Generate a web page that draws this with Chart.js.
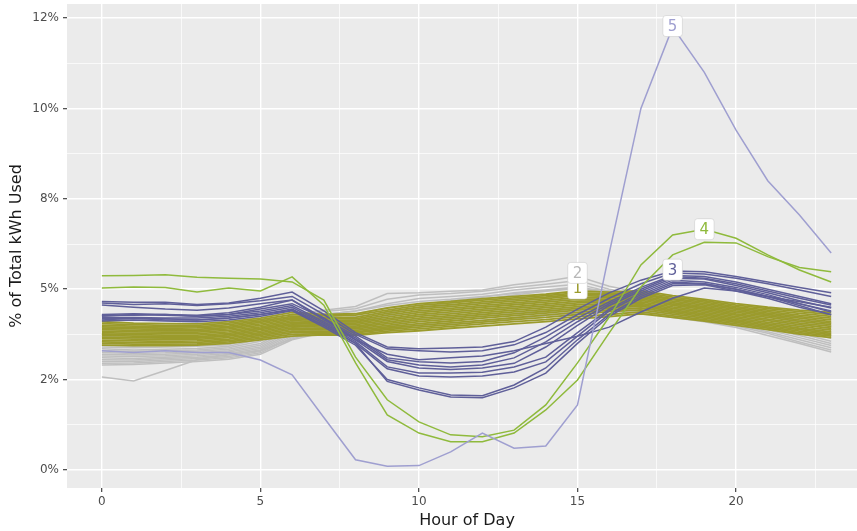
<!DOCTYPE html>
<html>
<head>
<meta charset="utf-8">
<script src="https://cdn.jsdelivr.net/npm/chart.js@4.4.1/dist/chart.umd.min.js"></script>
<style>
  html, body { margin: 0; padding: 0; background: #fff; overflow: hidden; }
  #wrap { width: 870px; height: 531px; }
</style>
</head>
<body>
<div id="wrap"><canvas id="myChart" width="870" height="531"></canvas></div>
<script>
// hours on the x axis
const hours = [0, 1, 2, 3, 4, 5, 6, 7, 8, 9, 10, 11, 12, 13, 14, 15, 16, 17, 18, 19, 20, 21, 22, 23];

// tick values and their labels (ggplot rounds 2.5% to "2%" etc.)
const yTickValues = [0, 2.5, 5, 7.5, 10, 12.5];
const yTickLabels = ['0%', '2%', '5%', '8%', '10%', '12%'];
const yMinorValues = [1.25, 3.75, 6.25, 8.75, 11.25];
const xTickValues = [0, 5, 10, 15, 20];
const xMinorValues = [2.5, 7.5, 12.5, 17.5, 22.5];

// cluster 2 (gray) - % of daily kWh per hour
const cluster2 = [
  [3.45, 3.42, 3.45, 3.48, 3.52, 3.80, 4.30, 4.42, 4.52, 4.88, 4.90, 4.94, 4.98, 5.12, 5.22, 5.36, 5.08, 4.90, 4.72, 4.60, 4.48, 4.38, 4.22, 4.05],
  [3.40, 3.38, 3.40, 3.42, 3.46, 3.72, 4.22, 4.38, 4.46, 4.72, 4.84, 4.88, 4.94, 5.05, 5.14, 5.24, 5.00, 4.84, 4.68, 4.56, 4.44, 4.30, 4.15, 3.96],
  [3.35, 3.32, 3.34, 3.36, 3.42, 3.62, 4.12, 4.30, 4.40, 4.60, 4.74, 4.80, 4.86, 4.98, 5.06, 5.14, 4.94, 4.78, 4.62, 4.50, 4.38, 4.24, 4.08, 3.88],
  [3.30, 3.28, 3.30, 3.32, 3.38, 3.56, 4.05, 4.22, 4.32, 4.48, 4.58, 4.68, 4.78, 4.90, 4.98, 5.06, 4.88, 4.72, 4.56, 4.44, 4.30, 4.16, 4.00, 3.80],
  [3.25, 3.22, 3.24, 3.28, 3.34, 3.50, 3.98, 4.16, 4.24, 4.36, 4.46, 4.55, 4.62, 4.70, 4.78, 4.85, 4.80, 4.66, 4.50, 4.38, 4.24, 4.08, 3.92, 3.72],
  [3.20, 3.18, 3.20, 3.24, 3.30, 3.45, 3.92, 4.10, 4.16, 4.26, 4.36, 4.44, 4.52, 4.60, 4.68, 4.75, 4.72, 4.60, 4.46, 4.34, 4.20, 4.02, 3.85, 3.64],
  [3.15, 3.14, 3.16, 3.20, 3.26, 3.40, 3.86, 4.04, 4.10, 4.18, 4.26, 4.34, 4.42, 4.50, 4.58, 4.66, 4.64, 4.54, 4.42, 4.30, 4.15, 3.96, 3.78, 3.56],
  [3.10, 3.08, 3.12, 3.16, 3.22, 3.36, 3.80, 3.98, 4.04, 4.10, 4.18, 4.25, 4.34, 4.42, 4.50, 4.58, 4.58, 4.50, 4.38, 4.26, 4.10, 3.92, 3.72, 3.50],
  [3.05, 3.04, 3.08, 3.12, 3.18, 3.32, 3.75, 3.92, 3.98, 4.04, 4.10, 4.18, 4.26, 4.34, 4.42, 4.50, 4.52, 4.46, 4.34, 4.22, 4.06, 3.88, 3.66, 3.44],
  [3.00, 3.00, 3.04, 3.08, 3.14, 3.28, 3.70, 3.88, 3.92, 3.98, 4.04, 4.12, 4.20, 4.28, 4.36, 4.44, 4.48, 4.42, 4.30, 4.18, 4.02, 3.82, 3.60, 3.38],
  [2.95, 2.96, 3.00, 3.04, 3.10, 3.24, 3.66, 3.84, 3.88, 3.94, 4.00, 4.06, 4.14, 4.22, 4.30, 4.38, 4.44, 4.38, 4.26, 4.14, 3.98, 3.78, 3.54, 3.32],
  [2.57, 2.46, 2.75, 3.05, 3.20, 3.30, 3.62, 3.90, 4.05, 4.30, 4.50, 4.62, 4.72, 4.84, 4.94, 5.02, 4.90, 4.78, 4.62, 4.48, 4.32, 4.15, 3.95, 3.75],
  [2.90, 2.92, 2.96, 3.00, 3.06, 3.20, 3.60, 3.80, 3.84, 3.90, 3.96, 4.02, 4.10, 4.18, 4.26, 4.34, 4.40, 4.35, 4.22, 4.10, 3.94, 3.72, 3.50, 3.26],
  [3.70, 3.66, 3.64, 3.66, 3.72, 3.90, 4.20, 4.30, 4.40, 4.55, 4.66, 4.72, 4.80, 4.88, 4.96, 5.04, 4.96, 4.82, 4.66, 4.54, 4.42, 4.28, 4.12, 3.98]
];

// cluster 1 (olive)
const cluster1 = [
  [4.10, 4.06, 4.05, 4.04, 4.10, 4.20, 4.36, 4.30, 4.32, 4.48, 4.60, 4.66, 4.74, 4.80, 4.86, 4.95, 4.92, 4.96, 4.82, 4.72, 4.60, 4.50, 4.42, 4.36],
  [4.05, 4.02, 4.00, 4.00, 4.06, 4.16, 4.30, 4.26, 4.28, 4.42, 4.55, 4.62, 4.70, 4.76, 4.82, 4.90, 4.88, 4.92, 4.78, 4.68, 4.56, 4.46, 4.38, 4.30],
  [4.00, 3.98, 3.96, 3.96, 4.02, 4.12, 4.25, 4.22, 4.22, 4.38, 4.50, 4.57, 4.65, 4.72, 4.78, 4.86, 4.84, 4.88, 4.74, 4.64, 4.52, 4.42, 4.33, 4.25],
  [3.96, 3.94, 3.92, 3.93, 3.98, 4.08, 4.21, 4.18, 4.18, 4.33, 4.45, 4.52, 4.60, 4.67, 4.74, 4.82, 4.80, 4.85, 4.71, 4.60, 4.48, 4.38, 4.28, 4.20],
  [3.92, 3.90, 3.88, 3.89, 3.94, 4.04, 4.17, 4.14, 4.14, 4.28, 4.40, 4.47, 4.55, 4.62, 4.69, 4.77, 4.76, 4.81, 4.67, 4.56, 4.44, 4.34, 4.24, 4.15],
  [3.88, 3.86, 3.85, 3.85, 3.90, 4.00, 4.13, 4.10, 4.10, 4.23, 4.35, 4.42, 4.50, 4.57, 4.64, 4.72, 4.72, 4.77, 4.63, 4.52, 4.40, 4.30, 4.20, 4.10],
  [3.84, 3.82, 3.81, 3.81, 3.86, 3.96, 4.09, 4.06, 4.06, 4.18, 4.30, 4.37, 4.45, 4.52, 4.59, 4.67, 4.68, 4.73, 4.59, 4.48, 4.36, 4.26, 4.15, 4.06],
  [3.80, 3.78, 3.77, 3.77, 3.82, 3.92, 4.05, 4.03, 4.02, 4.14, 4.25, 4.32, 4.40, 4.47, 4.54, 4.62, 4.64, 4.69, 4.55, 4.44, 4.32, 4.22, 4.11, 4.02],
  [3.76, 3.74, 3.73, 3.73, 3.78, 3.88, 4.01, 3.99, 3.98, 4.09, 4.20, 4.27, 4.35, 4.42, 4.49, 4.57, 4.60, 4.65, 4.51, 4.40, 4.28, 4.17, 4.06, 3.97],
  [3.72, 3.70, 3.69, 3.69, 3.74, 3.84, 3.97, 3.95, 3.94, 4.05, 4.15, 4.22, 4.30, 4.37, 4.44, 4.52, 4.56, 4.61, 4.47, 4.36, 4.24, 4.13, 4.02, 3.92],
  [3.67, 3.66, 3.65, 3.65, 3.70, 3.80, 3.93, 3.91, 3.90, 4.00, 4.10, 4.17, 4.25, 4.32, 4.39, 4.47, 4.52, 4.57, 4.43, 4.32, 4.20, 4.08, 3.97, 3.87],
  [3.63, 3.62, 3.61, 3.61, 3.66, 3.76, 3.89, 3.88, 3.86, 3.96, 4.05, 4.12, 4.20, 4.27, 4.34, 4.42, 4.48, 4.53, 4.39, 4.28, 4.16, 4.04, 3.92, 3.82],
  [3.58, 3.57, 3.56, 3.57, 3.62, 3.72, 3.84, 3.84, 3.82, 3.92, 4.00, 4.07, 4.14, 4.21, 4.28, 4.36, 4.43, 4.48, 4.35, 4.24, 4.12, 4.00, 3.88, 3.78],
  [3.54, 3.52, 3.52, 3.53, 3.58, 3.68, 3.80, 3.81, 3.79, 3.88, 3.95, 4.02, 4.09, 4.16, 4.22, 4.30, 4.38, 4.43, 4.31, 4.20, 4.08, 3.96, 3.84, 3.74],
  [3.50, 3.48, 3.48, 3.49, 3.54, 3.64, 3.75, 3.77, 3.75, 3.84, 3.90, 3.97, 4.04, 4.10, 4.16, 4.24, 4.30, 4.37, 4.26, 4.16, 4.04, 3.92, 3.80, 3.70],
  [3.45, 3.44, 3.44, 3.45, 3.50, 3.60, 3.70, 3.74, 3.72, 3.80, 3.85, 3.92, 3.98, 4.04, 4.10, 4.18, 4.24, 4.32, 4.22, 4.12, 4.00, 3.88, 3.76, 3.66]
];

// cluster 3 (slate blue)
const cluster3 = [
  [4.66, 4.64, 4.64, 4.58, 4.62, 4.75, 4.92, 4.40, 3.80, 3.40, 3.35, 3.37, 3.40, 3.55, 3.95, 4.45, 4.90, 5.25, 5.50, 5.48, 5.35, 5.20, 5.05, 4.90],
  [4.62, 4.58, 4.60, 4.55, 4.60, 4.68, 4.80, 4.30, 3.75, 3.35, 3.30, 3.26, 3.30, 3.46, 3.80, 4.30, 4.75, 5.15, 5.45, 5.42, 5.30, 5.15, 4.98, 4.80],
  [4.56, 4.50, 4.45, 4.42, 4.48, 4.60, 4.70, 4.20, 3.70, 3.10, 2.99, 2.96, 3.00, 3.24, 3.68, 4.20, 4.65, 5.05, 5.38, 5.35, 5.20, 5.00, 4.80, 4.60],
  [4.30, 4.32, 4.30, 4.28, 4.35, 4.50, 4.70, 4.15, 3.65, 3.05, 2.90, 2.85, 2.90, 3.10, 3.54, 4.10, 4.60, 5.00, 5.35, 5.30, 5.15, 4.95, 4.75, 4.56],
  [4.27, 4.28, 4.30, 4.25, 4.30, 4.40, 4.55, 4.10, 3.60, 3.00, 2.82, 2.78, 2.82, 2.95, 3.40, 4.00, 4.55, 4.95, 5.30, 5.28, 5.10, 4.90, 4.68, 4.48],
  [4.22, 4.22, 4.20, 4.20, 4.25, 4.35, 4.50, 4.05, 3.55, 2.85, 2.68, 2.68, 2.70, 2.85, 3.12, 3.80, 4.45, 4.90, 5.25, 5.20, 5.05, 4.85, 4.60, 4.37],
  [4.18, 4.18, 4.18, 4.15, 4.20, 4.30, 4.42, 4.00, 3.50, 2.80, 2.60, 2.57, 2.60, 2.71, 2.99, 3.70, 4.40, 4.85, 5.20, 5.15, 5.00, 4.80, 4.55, 4.29],
  [4.12, 4.15, 4.12, 4.10, 4.15, 4.25, 4.40, 3.95, 3.45, 2.50, 2.27, 2.07, 2.05, 2.35, 2.82, 3.60, 4.30, 4.80, 5.15, 5.15, 5.00, 4.80, 4.60, 4.40],
  [4.15, 4.20, 4.15, 4.15, 4.20, 4.30, 4.45, 4.00, 3.50, 2.45, 2.21, 2.02, 2.00, 2.27, 2.68, 3.50, 4.25, 4.75, 5.10, 5.12, 4.95, 4.75, 4.50, 4.30],
  [4.25, 4.30, 4.28, 4.25, 4.30, 4.45, 4.60, 4.20, 3.60, 3.20, 3.05, 3.10, 3.15, 3.30, 3.50, 3.70, 3.95, 4.37, 4.75, 5.03, 4.95, 4.80, 4.65, 4.50]
];

// cluster 4 (green)
const cluster4 = [
  [5.37, 5.38, 5.40, 5.33, 5.30, 5.28, 5.20, 4.70, 3.12, 1.94, 1.33, 0.97, 0.92, 1.10, 1.80, 2.96, 4.23, 5.67, 6.50, 6.66, 6.41, 5.95, 5.53, 5.20],
  [5.03, 5.06, 5.05, 4.92, 5.03, 4.95, 5.34, 4.56, 2.96, 1.52, 1.02, 0.78, 0.78, 1.02, 1.66, 2.49, 3.79, 5.06, 5.95, 6.30, 6.28, 5.90, 5.60, 5.48]
];

// cluster 5 (light purple, one household)
const cluster5 = [
  [3.30, 3.25, 3.30, 3.25, 3.25, 3.04, 2.63, 1.45, 0.28, 0.10, 0.12, 0.50, 1.02, 0.60, 0.66, 1.80, 6.00, 10.00, 12.25, 11.00, 9.40, 8.00, 7.05, 6.00]
];

// cluster labels, placed at one point of each cluster
const labelTexts = ['1', '2', '3', '4', '5'];
const labelHours = [15, 15, 18, 19, 18];
const labelValues = [5.02, 5.45, 5.54, 6.66, 12.28];

const clusterColors = {
  c1: '#9b9b2c',
  c2: '#bfbfbf',
  c3: '#5f5f99',
  c4: '#8fba3c',
  c5: '#9f9fd0'
};
const labelColors = [clusterColors.c1, '#b8b8b8', clusterColors.c3, clusterColors.c4, clusterColors.c5];

const FONT = '"DejaVu Sans", "Liberation Sans", sans-serif';

const toPoints = (vals) => hours.map((h, i) => ({ x: h, y: vals[i] }));

// Chart.js paints the first dataset on top, so clusters are listed front to back
const makeSets = (lines, color, width) => lines.map((vals) => ({
  data: toPoints(vals),
  borderColor: color,
  borderWidth: width,
  pointRadius: 0,
  fill: false,
  tension: 0
}));

const configureData = () => {
  return {
    datasets: [
      ...makeSets(cluster5, clusterColors.c5, 1.5),
      ...makeSets(cluster4, clusterColors.c4, 1.5),
      ...makeSets(cluster3, clusterColors.c3, 1.5),
      ...makeSets(cluster1, clusterColors.c1, 1.8),
      ...makeSets(cluster2, clusterColors.c2, 1.5)
    ]
  };
};

const panelBackground = {
  id: 'panelBackground',
  beforeDraw(chart) {
    const { ctx, chartArea: a } = chart;
    ctx.save();
    ctx.fillStyle = '#ebebeb';
    ctx.fillRect(a.left, a.top, a.right - a.left, a.bottom - a.top);
    ctx.restore();
  }
};

const clusterLabels = {
  id: 'clusterLabels',
  afterDatasetsDraw(chart) {
    const { ctx, scales: { x, y } } = chart;
    ctx.save();
    ctx.font = '15px ' + FONT;
    ctx.textAlign = 'center';
    ctx.textBaseline = 'middle';
    labelTexts.forEach((txt, i) => {
      const px = x.getPixelForValue(labelHours[i]);
      const py = y.getPixelForValue(labelValues[i]);
      const w = ctx.measureText(txt).width + 10;
      const h = 21;
      ctx.beginPath();
      ctx.roundRect(px - w / 2, py - h / 2, w, h, 3);
      ctx.fillStyle = '#ffffff';
      ctx.fill();
      ctx.lineWidth = 0.6;
      ctx.strokeStyle = 'rgba(200,200,200,0.9)';
      ctx.stroke();
      ctx.fillStyle = labelColors[i];
      ctx.fillText(txt, px, py + 1);
    });
    ctx.restore();
  }
};

const isMajor = (list, v) => list.indexOf(v) >= 0;

const configureChart = (data) => {
  return {
    type: 'line',
    data: data,
    plugins: [panelBackground, clusterLabels],
    options: {
      responsive: false,
      animation: false,
      events: [],
      layout: { padding: { top: 4, right: 3, left: 0, bottom: 0 } },
      plugins: {
        legend: { display: false },
        tooltip: { enabled: false }
      },
      scales: {
        x: {
          type: 'linear',
          min: -1.1,
          max: 24.13,
          afterBuildTicks: (s) => {
            s.ticks = [...xTickValues, ...xMinorValues].sort((a, b) => a - b).map((v) => ({ value: v }));
          },
          afterFit: (s) => {
            s.height = 43;
            s.paddingLeft = 0;
            s.paddingRight = 0;
          },
          ticks: {
            autoSkip: false,
            maxRotation: 0,
            padding: 3,
            color: '#4d4d4d',
            font: { family: FONT, size: 12 },
            callback: (v) => (isMajor(xTickValues, v) ? String(v) : '')
          },
          grid: {
            color: '#ffffff',
            lineWidth: (c) => (c.tick && isMajor(xTickValues, c.tick.value) ? 1.4 : 0.7),
            tickLength: 4,
            tickWidth: 1.1,
            tickColor: (c) => (c.tick && isMajor(xTickValues, c.tick.value) ? '#333333' : 'rgba(0,0,0,0)')
          },
          border: { display: false },
          title: {
            display: true,
            text: 'Hour of Day',
            color: '#1a1a1a',
            font: { family: FONT, size: 16 },
            padding: { top: 0, bottom: 1 }
          }
        },
        y: {
          type: 'linear',
          min: -0.5,
          max: 12.89,
          afterBuildTicks: (s) => {
            s.ticks = [...yTickValues, ...yMinorValues].sort((a, b) => a - b).map((v) => ({ value: v }));
          },
          afterFit: (s) => {
            s.width = 67;
            s.paddingTop = 0;
            s.paddingBottom = 0;
          },
          ticks: {
            autoSkip: false,
            padding: 4,
            color: '#4d4d4d',
            font: { family: FONT, size: 12 },
            callback: (v) => {
              const i = yTickValues.indexOf(v);
              return i >= 0 ? yTickLabels[i] : '';
            }
          },
          grid: {
            color: '#ffffff',
            lineWidth: (c) => (c.tick && isMajor(yTickValues, c.tick.value) ? 1.4 : 0.7),
            tickLength: 4,
            tickWidth: 1.1,
            tickColor: (c) => (c.tick && isMajor(yTickValues, c.tick.value) ? '#333333' : 'rgba(0,0,0,0)')
          },
          border: { display: false },
          title: {
            display: true,
            text: '% of Total kWh Used',
            color: '#1a1a1a',
            font: { family: FONT, size: 16 },
            padding: { top: 7, bottom: 0 }
          }
        }
      }
    }
  };
};

const renderChart = () => {
  const ctx = document.getElementById('myChart');
  const data = configureData();
  const chartConfigurations = configureChart(data);
  const myChart = new Chart(ctx, chartConfigurations);
};

window.onload = () => {
  renderChart();
};
</script>
</body>
</html>
